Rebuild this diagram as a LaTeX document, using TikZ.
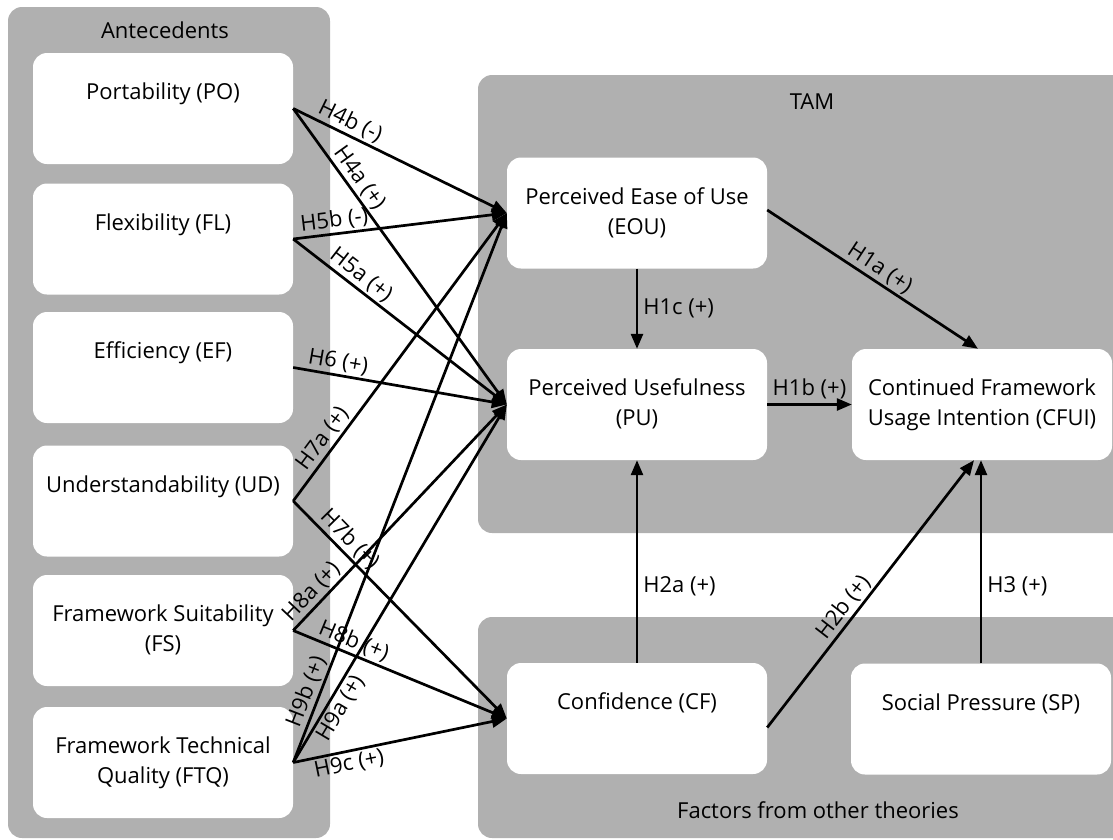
\documentclass[tikz,border=0pt]{standalone}
\usepackage{fontspec}
\setmainfont{Open Sans}
\usetikzlibrary{arrows.meta}
\definecolor{panelgray}{RGB}{176,176,176}
\newcommand\boxfont{\fontsize{22}{30}\selectfont}
\begin{document}
\begin{tikzpicture}[x=1pt,y=-1pt,
  panel/.style={fill=panelgray, rounded corners=14pt},
  box/.style={fill=white, rounded corners=14pt, minimum width=260pt, minimum height=111pt, align=center, inner sep=0pt, font=\boxfont},
  arr/.style={line width=2.7pt, -{Triangle[length=15pt,width=12pt]}},
  lab/.style={font=\boxfont, inner sep=2pt},
  title/.style={font=\boxfont, inner sep=0pt}]
\useasboundingbox (0,0) rectangle (1113,839);
% panels
\fill[panel] (8,7) rectangle (330,838);
\fill[panel] (478,75) rectangle (1130,533);
\fill[panel] (478,617) rectangle (1130,838);
\node[title] (tant) at (165,30) {Antecedents};
\node[title] (ttam) at (812,102) {TAM};
\node[title] (tfac) at (818,810) {Factors from other theories};
% antecedent boxes
\node[box] (PO)  at (163,108.5) {Portability (PO)\strut\\\strut};
\node[box] (FL)  at (163,239)   {Flexibility (FL)\strut\\\strut};
\node[box] (EF)  at (163,367.5) {Efficiency (EF)\strut\\\strut};
\node[box] (UD)  at (163,501)   {Understandability (UD)\strut\\\strut};
\node[box] (FS)  at (163,630.5) {Framework Suitability\strut\\(FS)\strut};
\node[box] (FTQ) at (163,762.5) {Framework Technical\strut\\Quality (FTQ)\strut};
% TAM boxes
\node[box] (EOU)  at (637,213)   {Perceived Ease of Use\strut\\(EOU)\strut};
\node[box] (PU)   at (637,404.5) {Perceived Usefulness\strut\\(PU)\strut};
\node[box] (CFUI) at (982,404.5) {Continued Framework\strut\\Usage Intention (CFUI)\strut};
% other factors
\node[box] (CF) at (637,718.5) {Confidence (CF)\strut\\\strut};
\node[box] (SP) at (981,719)   {Social Pressure (SP)\strut\\\strut};
% antecedent arrows
\draw[arr] (PO.east) -- node[lab,sloped,above,pos=0.24]{H4b (-)} (EOU.west);
\draw[arr] (PO.east) -- node[lab,sloped,above,pos=0.26]{H4a (+)} (PU.west);
\draw[arr] (FL.east) -- node[lab,sloped,above,pos=0.2]{H5b (-)} (EOU.west);
\draw[arr] (FL.east) -- node[lab,sloped,above,pos=0.28]{H5a (+)} (PU.west);
\draw[arr] (EF.east) -- node[lab,sloped,above,pos=0.2]{H6 (+)} (PU.west);
\draw[arr] (UD.east) -- node[lab,sloped,above,pos=0.19]{H7a (+)} (EOU.west);
\draw[arr] (UD.east) -- node[lab,sloped,above,pos=0.22]{H7b (+)} (CF.west);
\draw[arr] (FS.east) -- node[lab,sloped,above,pos=0.13]{H8a (+)} (PU.west);
\draw[arr] (FS.east) -- node[lab,sloped,above,pos=0.26]{H8b (+)} (CF.west);
\draw[arr] (FTQ.east) -- node[lab,sloped,above,pos=0.12]{H9b (+)} (EOU.west);
\draw[arr] (FTQ.east) -- node[lab,sloped,below,pos=0.17]{H9a (+)} (PU.west);
\draw[arr] (FTQ.east) -- node[lab,sloped,below,pos=0.25]{H9c (+)} (CF.west);
% TAM arrows
\draw[arr] (EOU.south) -- node[lab,right,inner sep=5pt]{H1c (+)} (PU.north);
\draw[arr] (PU.east) -- node[lab,above,inner sep=4pt]{H1b (+)} (CFUI.west);
\draw[arr] ([yshift=3pt]EOU.east) -- node[lab,sloped,above,pos=0.5]{H1a (+)} ([xshift=-4pt]CFUI.north);
\draw[arr] (CF.north) -- node[lab,right,pos=0.38,inner sep=5pt]{H2a (+)} (PU.south);
\draw[arr] ([yshift=-9pt]CF.east) -- node[lab,sloped,above,pos=0.42]{H2b (+)} ([xshift=-8pt]CFUI.south);
\draw[arr] (SP.north) -- node[lab,right,pos=0.38,inner sep=5pt]{H3 (+)} (SP.north |- CFUI.south);
\end{tikzpicture}
\end{document}
